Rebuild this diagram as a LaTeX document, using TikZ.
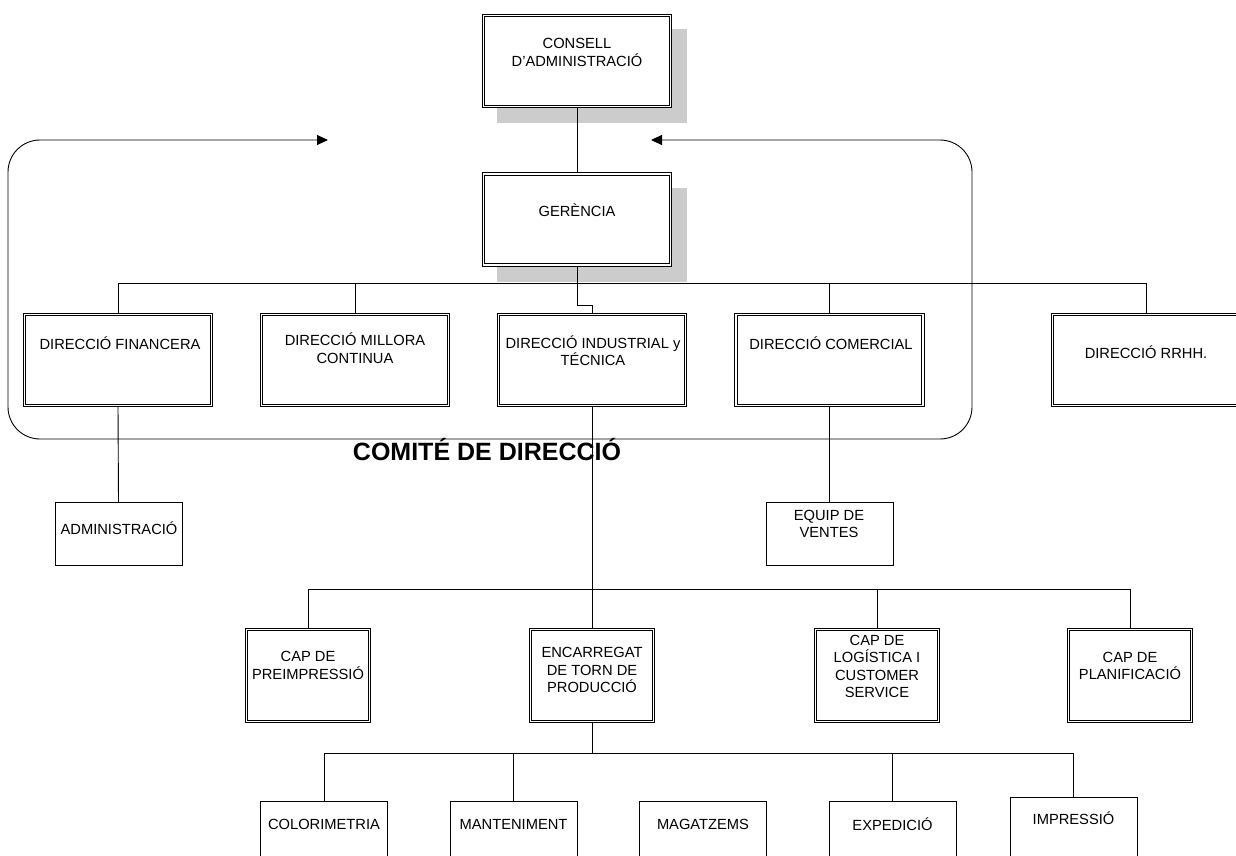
\documentclass[tikz,border=0pt]{standalone}
\usepackage{fontspec}
\setmainfont{Liberation Sans}
\usetikzlibrary{arrows.meta,calc}
\definecolor{shadowgray}{RGB}{204,204,204}
\tikzset{
  dbox/.style={draw, line width=0.8pt, double, double distance=1.8pt, fill=white, outer sep=0pt, inner sep=0pt},
  bigbox/.style={dbox, minimum width=187pt, minimum height=91pt},
  capbox/.style={dbox, minimum width=123pt, minimum height=92pt},
  sbox/.style={draw, line width=0.9pt, fill=white, outer sep=0pt, inner sep=0pt, minimum width=127pt, minimum height=63pt},
  lbl/.style={inner sep=0pt, align=center, font=\fontsize{14.7}{17.5}\selectfont},
  conn/.style={line width=0.9pt},
}
\begin{document}
\begin{tikzpicture}[x=1pt,y=-1pt]
\useasboundingbox (0,0) rectangle (1236,856);
\fill[white] (0,0) rectangle (1236,856);
\clip (0,0) rectangle (1236,856);

% box nodes (positions)
\node[bigbox] (cons) at (577,61) {};
\node[bigbox] (ger) at (577,219.5) {};
\node[bigbox] (fin) at (118,360) {};
\node[bigbox] (mil) at (355,360) {};
\node[bigbox] (ind) at (592,360) {};
\node[bigbox] (com) at (829.5,360) {};
\node[bigbox] (rrhh) at (1146,360) {};
\node[sbox] (adm) at (118.5,533.5) {};
\node[sbox] (eqv) at (829.5,533.5) {};
\node[capbox] (pre) at (308,675.5) {};
\node[capbox] (enc) at (592,675.5) {};
\node[capbox] (log) at (877,675.5) {};
\node[capbox] (pla) at (1130,675.5) {};
\node[sbox] (col) at (324,832.5) {};
\node[sbox] (man) at (513.5,832.5) {};
\node[sbox] (mag) at (703,832.5) {};
\node[sbox] (exp) at (892.5,832.5) {};
\node[sbox] (imp) at (1073.5,828.5) {};

% shadows
\fill[shadowgray] ($(cons.south west)+(13.5,16.5)$) rectangle ($(cons.north east)+(16.5,13.5)$);
\fill[shadowgray] ($(ger.south west)+(13.5,16.5)$) rectangle ($(ger.north east)+(16.5,13.5)$);

% bus coordinates
\coordinate (bus1) at (0,283);
\coordinate (jog) at (0,305);
\coordinate (bus2) at (0,589);
\coordinate (bus3) at (0,753);

% connectors
\draw[conn] (cons.south) -- (ger.north);
\draw[conn] (ger.south) -- (ger.south |- bus1);
\draw[conn] (fin.north) |- (rrhh.north |- bus1) -- (rrhh.north);
\draw[conn] (mil.north) -- (mil.north |- bus1);
\draw[conn] (com.north) -- (com.north |- bus1);
\draw[conn] (ger.south |- bus1) -- (ger.south |- jog) -| (ind.north);
\draw[conn] (fin.south) -- (adm.north);
\draw[conn] (com.south) -- (eqv.north);
\draw[conn] (ind.south) -- (ind.south |- bus2);
\draw[conn] (pre.north) |- (pla.north |- bus2) -- (pla.north);
\draw[conn] (enc.north) -- (enc.north |- bus2);
\draw[conn] (log.north) -- (log.north |- bus2);
\draw[conn] (enc.south) -- (enc.south |- bus3);
\draw[conn] (col.north) |- (imp.north |- bus3) -- (imp.north);
\draw[conn] (man.north) -- (man.north |- bus3);
\draw[conn] (exp.north) -- (exp.north |- bus3);

% comite frame
\coordinate (arrR) at (328,140);
\coordinate (arrL) at (651,140);
\draw[conn, rounded corners=32pt, {Triangle[length=11pt,width=10pt]}-{Triangle[length=11pt,width=10pt]}]
  (arrR) -- (8,140) -- (8,439) -- (972,439) -- (972,140) -- (arrL);

% redraw boxes on top
\foreach \n in {cons,ger,fin,mil,ind,com,rrhh,pre,enc,log,pla}{
  \draw[line width=0.8pt, double, double distance=1.8pt, fill=white] (\n.south west) rectangle (\n.north east);
}
\foreach \n in {adm,eqv,col,man,mag,exp,imp}{
  \draw[line width=0.9pt, fill=white] (\n.south west) rectangle (\n.north east);
}

% texts
\node[lbl] (tcons) at (577,52.5) {CONSELL\\D’ADMINISTRACIÓ};
\node[lbl] (tger) at (577,210) {GERÈNCIA};
\node[lbl] (tfin) at (120,343) {DIRECCIÓ FINANCERA};
\node[lbl] (tmil) at (355,348) {DIRECCIÓ MILLORA\\CONTINUA};
\node[lbl] (tind) at (593,350.5) {DIRECCIÓ INDUSTRIAL y\\TÉCNICA};
\node[lbl] (tcom) at (831,343) {DIRECCIÓ COMERCIAL};
\node[lbl] (trrhh) at (1146,352) {DIRECCIÓ RRHH.};
\node[lbl] (tadm) at (119,528) {ADMINISTRACIÓ};
\node[lbl] (teqv) at (829,524) {EQUIP DE\\VENTES};
\node[lbl] (tpre) at (308,665.5) {CAP DE\\PREIMPRESSIÓ};
\node[lbl] (tenc) at (592,670) {ENCARREGAT\\DE TORN DE\\PRODUCCIÓ};
\node[lbl] (tlog) at (877,666.5) {CAP DE\\LOGÍSTICA I\\CUSTOMER\\SERVICE};
\node[lbl] (tpla) at (1130,666) {CAP DE\\PLANIFICACIÓ};
\node[lbl] (tcol) at (324,824) {COLORIMETRIA};
\node[lbl] (tman) at (513.5,824) {MANTENIMENT};
\node[lbl] (tmag) at (703,824) {MAGATZEMS};
\node[lbl] (texp) at (892.5,824) {EXPEDICIÓ};
\node[lbl] (timp) at (1073.5,818) {IMPRESSIÓ};
\node[inner sep=0pt, font=\fontsize{25}{30}\selectfont\bfseries] (tcomite) at (487,450) {COMITÉ DE DIRECCIÓ};
\draw[conn] (ind.south) -- (ind.south |- bus2);
\end{tikzpicture}
\end{document}
